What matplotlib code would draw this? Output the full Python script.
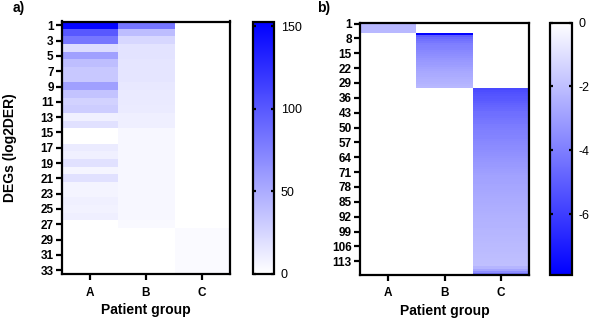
import matplotlib
matplotlib.use("Agg")
import matplotlib.pyplot as plt
import numpy as np
from matplotlib.colors import LinearSegmentedColormap

plt.rcParams['font.family'] = ['Liberation Sans', 'DejaVu Sans']

# ---------------- data ----------------
groups = ["A", "B", "C"]

# panel a: 33 DEGs, values per patient group
a_groupA = [150, 100, 82, 21, 57, 39, 33, 33, 57, 36, 27, 30, 9, 18, 0, 0,
            12, 9, 18, 6, 18, 7, 7, 9, 8, 10, 0, 0, 0, 0, 0, 0, 0]
a_groupB = [82, 40, 24, 17, 17, 16, 16, 16, 14, 13, 13, 12, 10, 10, 5, 5,
            5, 5, 5, 5, 5, 5, 5, 5, 5, 5, 4, 0, 0, 0, 0, 0, 0]
a_groupC = [0] * 27 + [3, 3, 3, 3, 3, 3]
a_yticks = list(range(1, 34, 2))
a_cbar_ticks = [0, 50, 100, 150]

# panel b: 119 DEGs
b_groupA_vals = [-2.2, -2.2, -2.2, -2.2, -2.2]
b_groupB_vals = [-7.8, -5.0, -4.6, -4.4, -4.2, -4.0, -3.9, -3.8, -3.7, -3.6,
                 -3.5, -3.4, -3.3, -3.2, -3.1, -3.0, -2.9, -2.8, -2.7, -2.65,
                 -2.6, -2.5, -2.45, -2.4, -2.3, -2.2]
b_groupC_vals = [-5.6, -5.5, -5.4, -5.3, -5.2, -5.1, -5.0, -4.9, -4.8, -4.7, -4.6,
                 -4.5, -4.45, -4.4, -4.3, -4.25, -4.2, -4.1, -4.05, -4.0, -3.95,
                 -3.9, -3.85, -3.8, -3.75, -3.7, -3.65, -3.6, -3.55, -3.5, -3.45,
                 -3.4, -3.35, -3.3, -3.25, -3.2, -3.15, -3.1, -3.05, -3.0, -2.95,
                 -2.9, -2.88, -2.85, -2.82, -2.8, -2.77, -2.75, -2.72, -2.7, -2.68,
                 -2.65, -2.62, -2.6, -2.58, -2.55, -2.52, -2.5, -2.48, -2.45, -2.43,
                 -2.4, -2.38, -2.36, -2.34, -2.32, -2.3, -2.28, -2.26, -2.24, -2.22,
                 -2.2, -2.18, -2.16, -2.14, -2.12, -2.1, -2.08, -2.06, -2.04, -2.02,
                 -2.0, -1.98, -1.96, -2.3, -2.8, -3.5, -4.3]
b_n = 119
b_yticks = list(range(1, 114, 7))
b_cbar_ticks = [0, -2, -4, -6]

# build matrices
A_mat = np.array([a_groupA, a_groupB, a_groupC], dtype=float).T
B_mat = np.zeros((b_n, 3))
B_mat[0:len(b_groupA_vals), 0] = b_groupA_vals
B_mat[5:5 + len(b_groupB_vals), 1] = b_groupB_vals
B_mat[31:31 + len(b_groupC_vals), 2] = b_groupC_vals

cmap_a = LinearSegmentedColormap.from_list("wb", ["#ffffff", "#0000ff"])
cmap_b = LinearSegmentedColormap.from_list("bw", ["#0000ff", "#ffffff"])

W, H = 591, 321
fig = plt.figure(figsize=(W / 100, H / 100), dpi=100)

def fr(x0, y0, x1, y1):
    return [x0 / W, 1 - y1 / H, (x1 - x0) / W, (y1 - y0) / H]

ax_a = fig.add_axes(fr(62, 21.5, 230, 274))
cax_a = fig.add_axes(fr(253, 21.5, 274, 274))
ax_b = fig.add_axes(fr(360, 22.5, 529, 275))
cax_b = fig.add_axes(fr(550, 22.5, 572, 275))

lw = 1.6
tickfs = 8.5
labfs = 10

def style_heat(ax, nrows, yticks):
    ax.set_xticks(range(3))
    ax.set_xticklabels(groups, fontsize=tickfs, fontweight='bold')
    ax.set_yticks([t - 1 for t in yticks])
    ax.set_yticklabels([str(t) for t in yticks], fontsize=tickfs, fontweight='bold')
    ax.tick_params(axis='both', width=lw, length=4.5, direction='out')
    ax.tick_params(axis='y', pad=1.5)
    ax.tick_params(axis='x', pad=4.5)
    for s in ax.spines.values():
        s.set_linewidth(lw)
    ax.set_xlabel("Patient group", fontsize=labfs, fontweight='bold', labelpad=3)

im_a = ax_a.imshow(A_mat, cmap=cmap_a, vmin=0, vmax=153, aspect='auto',
                   interpolation='nearest')
style_heat(ax_a, 33, a_yticks)
ax_a.set_ylabel("DEGs (log2DER)", fontsize=labfs, fontweight='bold', labelpad=17)

im_b = ax_b.imshow(B_mat, cmap=cmap_b, vmin=-7.9, vmax=0, aspect='auto',
                   interpolation='nearest')
style_heat(ax_b, b_n, b_yticks)

for cax, im, ticks in [(cax_a, im_a, a_cbar_ticks), (cax_b, im_b, b_cbar_ticks)]:
    cb = fig.colorbar(im, cax=cax)
    cb.set_ticks(ticks)
    cb.set_ticklabels([str(t) for t in ticks])
    cb.outline.set_linewidth(lw)
    cax.tick_params(width=lw, length=2.5, direction='in', left=True, right=True,
                    labelsize=9, pad=5)

fig.text(13 / W, 1 - 8 / H, "a)", fontsize=labfs, fontweight='bold', va='center', ha='left')
fig.text(317 / W, 1 - 8 / H, "b)", fontsize=labfs, fontweight='bold', va='center', ha='left')

fig.savefig("out.png", dpi=100)
